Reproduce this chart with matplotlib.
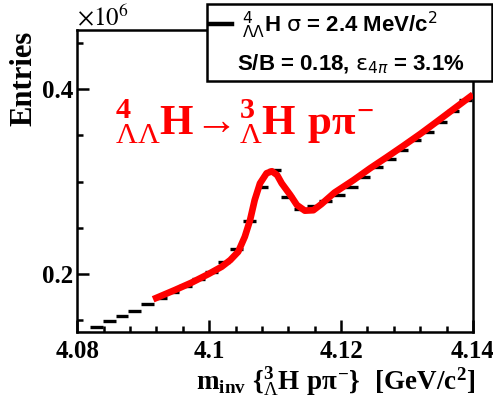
import numpy as np
import matplotlib
matplotlib.use('Agg')
from matplotlib import pyplot as plt
from matplotlib.ticker import MultipleLocator, FuncFormatter
from matplotlib.patches import Rectangle
from matplotlib.lines import Line2D

plt.rcParams['mathtext.fontset'] = 'custom'
plt.rcParams['mathtext.rm'] = 'Liberation Serif:bold'
plt.rcParams['mathtext.it'] = 'Liberation Serif:bold'
plt.rcParams['mathtext.bf'] = 'Liberation Serif:bold'
plt.rcParams['mathtext.sf'] = 'Liberation Serif'   # thin Lambda, like the Symbol font

# histogram (x10^6 entries), bins of ~1.93 MeV
first_center = 4.0810
bin_width = 0.00193
counts = [0.1365, 0.1424, 0.1495, 0.1550, 0.1603, 0.1676, 0.1737, 0.1809, 0.1870,
          0.1943, 0.2025, 0.2126, 0.2267, 0.2573, 0.2944, 0.3120, 0.2833, 0.2700,
          0.2736, 0.2785, 0.2854, 0.2944, 0.3052, 0.3154, 0.3240, 0.3340, 0.3449,
          0.3538, 0.3646, 0.3765, 0.3880]

# fitted curve
fit_x = [4.0915, 4.0948, 4.0973, 4.0999, 4.1019, 4.1032, 4.1044, 4.1054, 4.1062,
         4.1069, 4.1077, 4.1087, 4.1095, 4.1103, 4.1110, 4.1123, 4.1133, 4.1145,
         4.1158, 4.1170, 4.1190, 4.1219, 4.1244, 4.1269, 4.1294, 4.1320, 4.1345,
         4.1370, 4.1400]
fit_y = [0.1727, 0.1827, 0.1906, 0.2000, 0.2079, 0.2151, 0.2241, 0.2403, 0.2584,
         0.2800, 0.2980, 0.3089, 0.3111, 0.3070, 0.2980, 0.2854, 0.2746, 0.2685,
         0.2690, 0.2755, 0.2880, 0.3016, 0.3143, 0.3262, 0.3384, 0.3514, 0.3646,
         0.3780, 0.3940]

centers = first_center + bin_width * np.arange(len(counts))

fig = plt.figure(figsize=(4.93, 4.05), dpi=100)
ax = fig.add_axes([0.1568, 0.1802, 0.8026, 0.7457])

ax.hlines(counts, centers - bin_width / 2, centers + bin_width / 2, color='black', lw=2.4, zorder=2)
ax.plot(fit_x, fit_y, color='#ff0000', lw=4.8, solid_capstyle='butt', zorder=3)

ax.set_xlim(4.08, 4.14)
ax.set_ylim(0.1373, 0.4638)

ax.xaxis.set_major_locator(MultipleLocator(0.02))
ax.xaxis.set_minor_locator(MultipleLocator(0.004))
ax.yaxis.set_major_locator(MultipleLocator(0.2))
ax.yaxis.set_minor_locator(MultipleLocator(0.05))
fmt = FuncFormatter(lambda v, p: '%g' % round(v, 4))
ax.xaxis.set_major_formatter(fmt)
ax.yaxis.set_major_formatter(fmt)

for s in ax.spines.values():
    s.set_linewidth(1.8)
ax.tick_params(which='both', direction='in', top=False, right=False, width=1.8)
ax.tick_params(which='major', length=8.5)
ax.tick_params(which='minor', length=4)
ax.tick_params(axis='x', pad=6)
ax.tick_params(axis='y', pad=3)
for lab in ax.get_xticklabels() + ax.get_yticklabels():
    lab.set_fontfamily('Liberation Serif')
    lab.set_fontweight('bold')
    lab.set_fontsize(18)

fig.text(24 / 493, 1 - 31 / 405, 'Entries', rotation=90, ha='center', va='top',
         fontsize=22, fontfamily='Liberation Serif', fontweight='bold')
fig.text(77 / 493, 1 - 25 / 405, r'$\times10^{6}$', ha='left', va='baseline',
         fontsize=18, math_fontfamily='stix')
fig.text(475 / 493, 1 - 390 / 405,
         r'$\mathrm{m_{inv}}\ \{{}^{3}_{\mathsf{\Lambda}}\mathrm{H}\ \mathrm{p}\pi^{-}\}\ \ [\mathrm{GeV/c^{2}}]$',
         ha='right', va='baseline', fontsize=19.5)

# red decay label
fig.text(115 / 493, 1 - 135 / 405,
         r'${}^{4}_{\mathsf{\Lambda\Lambda}}\mathrm{H}\!\rightarrow\!{}^{3}_{\mathsf{\Lambda}}\mathrm{H}\ \mathrm{p}\pi^{-}$',
         ha='left', va='baseline', fontsize=31, color='#ff0000')

# legend box
fig.add_artist(Rectangle((207 / 493, 1 - 81 / 405), 285 / 493, 77 / 405, transform=fig.transFigure,
                         facecolor='white', edgecolor='black', lw=1.8, zorder=5))
fig.add_artist(Line2D([210 / 493, 232 / 493], [1 - 24 / 405, 1 - 24 / 405], transform=fig.transFigure,
                      color='black', lw=3.2, zorder=6))
fig.text(242 / 493, 1 - 32 / 405, r'${}^{4}_{\Lambda\Lambda}$H $\mathrm{\sigma}$ = 2.4 MeV/c$^{2}$',
         ha='left', va='baseline', fontsize=16, fontfamily='Liberation Sans', fontweight='bold',
         math_fontfamily='dejavusans', zorder=7)
fig.text(237 / 493, 1 - 70 / 405, r'S/B = 0.18, $\mathrm{\varepsilon}_{4\pi}$ = 3.1%',
         ha='left', va='baseline', fontsize=16, fontfamily='Liberation Sans', fontweight='bold',
         math_fontfamily='dejavusans', zorder=7)

fig.savefig('out.png', dpi=100)
